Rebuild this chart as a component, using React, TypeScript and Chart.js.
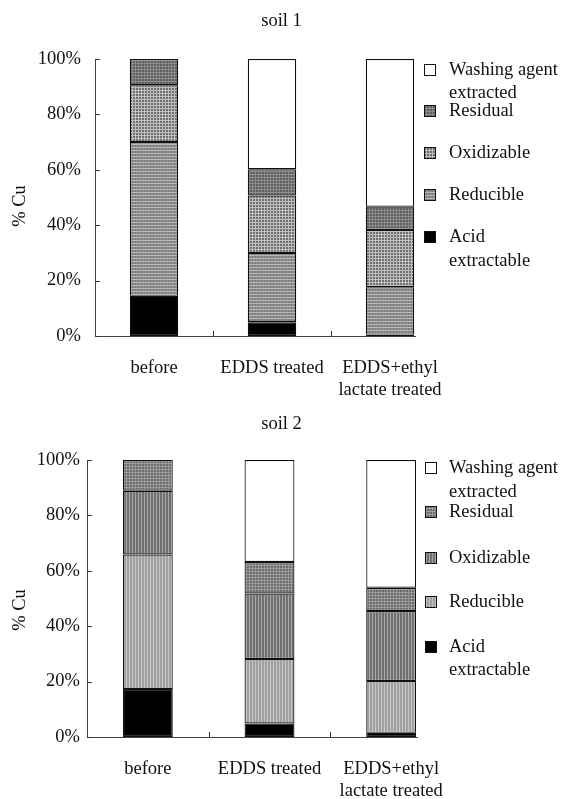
import React, { useEffect, useRef } from 'react';
import { Chart, registerables } from 'chart.js';
Chart.register(...registerables);

// ---------- data ----------
const categories = [['before'], ['EDDS treated'], ['EDDS+ethyl', 'lactate treated']];
const seriesNames = ['Acid extractable', 'Reducible', 'Oxidizable', 'Residual', 'Washing agent extracted'];
const legendLines = [['Washing agent', 'extracted'], ['Residual'], ['Oxidizable'], ['Reducible'], ['Acid', 'extractable']];
const yTickValues = [0, 20, 40, 60, 80, 100];

const soil1Acid = [14.5, 5, 0.5];
const soil1Reducible = [55.5, 25, 17.1];
const soil1Oxidizable = [20.5, 20.7, 20.7];
const soil1Residual = [9.5, 9.5, 8.4];
const soil1Washing = [null, 39.8, 53.3];

const soil2Acid = [17.3, 4.9, 1.5];
const soil2Reducible = [48.6, 23.3, 18.7];
const soil2Oxidizable = [23, 23.6, 25.3];
const soil2Residual = [11.1, 11.4, 8.4];
const soil2Washing = [null, 36.8, 46.1];

// ---------- styling ----------
type PSpec = { base: string; h?: string; v?: string; step: number } | string;

const soil1Fills: PSpec[] = [
  '#000000',
  { base: '#8c8c8c', h: '#b8b8b8', v: '#7c7c7c', step: 3 },
  { base: '#6e6e6e', h: '#c0c0c0', v: '#c0c0c0', step: 3 },
  { base: '#5e5e5e', h: '#8e8e8e', v: '#8a8a8a', step: 3 },
  '#ffffff',
];
const soil2Fills: PSpec[] = [
  '#000000',
  { base: '#a0a0a0', v: '#c6c6c6', step: 3 },
  { base: '#707070', v: '#a8a8a8', step: 3 },
  { base: '#6c6c6c', h: '#9c9c9c', v: '#989898', step: 3 },
  '#ffffff',
];

const FONT = "'Liberation Serif', 'Times New Roman', serif";
const FS = 18.5;
const TXT = '#111';
const W = 563;

function makeFill(spec: PSpec): any {
  if (typeof spec === 'string') return spec;
  const c = document.createElement('canvas');
  c.width = spec.step;
  c.height = spec.step;
  const g = c.getContext('2d')!;
  g.fillStyle = spec.base;
  g.fillRect(0, 0, spec.step, spec.step);
  if (spec.v) {
    g.fillStyle = spec.v;
    g.fillRect(0, 0, 1, spec.step);
  }
  if (spec.h) {
    g.fillStyle = spec.h;
    g.fillRect(0, 0, spec.step, 1);
  }
  return g.createPattern(c, 'repeat');
}

type Cfg = {
  title: string;
  titleY: number;
  height: number;
  left: number;
  right: number;
  top: number;
  bottom: number;
  yPad: number;
  yTitleY: number;
  legendLeft: number;
  legendSquareX: number;
  legendTextX: number;
  legendRows: number[][];
  series: (number | null)[][];
  fills: PSpec[];
};

const cfg1: Cfg = {
  title: 'soil 1',
  titleY: 21,
  height: 400,
  left: 95,
  right: 449,
  top: 59,
  bottom: 336,
  yPad: 14,
  yTitleY: 206,
  legendLeft: 416,
  legendSquareX: 424,
  legendTextX: 449,
  legendRows: [[70, 93], [111], [153], [195], [237, 261]],
  series: [soil1Acid, soil1Reducible, soil1Oxidizable, soil1Residual, soil1Washing],
  fills: soil1Fills,
};

const cfg2: Cfg = {
  title: 'soil 2',
  titleY: 24,
  height: 399,
  left: 87,
  right: 452,
  top: 60,
  bottom: 337,
  yPad: 7,
  yTitleY: 210,
  legendLeft: 418,
  legendSquareX: 425,
  legendTextX: 449,
  legendRows: [[68, 92], [112], [158], [202], [247, 270]],
  series: [soil2Acid, soil2Reducible, soil2Oxidizable, soil2Residual, soil2Washing],
  fills: soil2Fills,
};

function SoilChart({ cfg, top }: { cfg: Cfg; top: number }) {
  const ref = useRef<HTMLCanvasElement | null>(null);
  useEffect(() => {
    if (!ref.current) return;
    const fills = cfg.fills.map(makeFill);
    const decor = {
      id: 'decor',
      afterDraw(chart: any) {
        const ctx = chart.ctx;
        const ca = chart.chartArea;
        const xs = chart.scales.x;
        const ys = chart.scales.y;
        ctx.save();
        // tick marks (inside)
        ctx.strokeStyle = '#333';
        ctx.lineWidth = 1;
        ctx.beginPath();
        yTickValues.forEach((v) => {
          const y = Math.round(ys.getPixelForValue(v)) + 0.5;
          ctx.moveTo(ca.left, y);
          ctx.lineTo(ca.left + 5, y);
        });
        for (let i = 0; i < categories.length - 1; i++) {
          const x = Math.round((xs.getPixelForValue(i) + xs.getPixelForValue(i + 1)) / 2) + 0.5;
          ctx.moveTo(x, ca.bottom);
          ctx.lineTo(x, ca.bottom - 5);
        }
        ctx.stroke();
        // legend box (white, overlapping plot)
        ctx.fillStyle = '#ffffff';
        ctx.fillRect(cfg.legendLeft, ca.top - 12, W - cfg.legendLeft, ca.bottom - ca.top + 14);
        ctx.font = `${FS}px ${FONT}`;
        ctx.textBaseline = 'middle';
        ctx.textAlign = 'left';
        const order = [4, 3, 2, 1, 0];
        order.forEach((di, k) => {
          const rows = cfg.legendRows[k];
          const sx = cfg.legendSquareX;
          const sy = Math.round(rows[0] - 6);
          ctx.fillStyle = fills[di];
          ctx.fillRect(sx, sy, 12, 12);
          ctx.strokeStyle = '#111';
          ctx.lineWidth = 1;
          ctx.strokeRect(sx + 0.5, sy + 0.5, 11, 11);
          ctx.fillStyle = TXT;
          legendLines[k].forEach((t, j) => ctx.fillText(t, cfg.legendTextX, rows[j]));
        });
        // title
        ctx.textAlign = 'center';
        ctx.fillStyle = TXT;
        ctx.fillText(cfg.title, W / 2, cfg.titleY);
        // y title
        ctx.translate(20, cfg.yTitleY);
        ctx.rotate(-Math.PI / 2);
        ctx.fillText('% Cu', 0, 0);
        ctx.restore();
      },
    };
    const chart = new Chart(ref.current, {
      type: 'bar',
      data: {
        labels: categories as any,
        datasets: cfg.series.map((d, i) => ({
          label: seriesNames[i],
          data: d as any,
          backgroundColor: fills[i],
          borderColor: '#111',
          borderWidth: 1.2,
          borderSkipped: false,
          barPercentage: 0.41,
          categoryPercentage: 1,
        })),
      },
      options: {
        animation: false,
        responsive: false,
        devicePixelRatio: 1,
        layout: { padding: { top: cfg.top, left: 0, right: W - cfg.right, bottom: 0 } },
        plugins: { legend: { display: false }, title: { display: false }, tooltip: { enabled: false } },
        scales: {
          x: {
            stacked: true,
            grid: { display: false, drawTicks: false },
            border: { display: true, color: '#444', width: 1 },
            ticks: { font: { family: FONT, size: FS }, color: TXT, padding: 21, maxRotation: 0, autoSkip: false },
            afterFit: (s: any) => {
              s.height = cfg.height - cfg.bottom;
            },
          },
          y: {
            stacked: true,
            min: 0,
            max: 100,
            grid: { display: false, drawTicks: false },
            border: { display: true, color: '#444', width: 1 },
            ticks: {
              stepSize: 20,
              font: { family: FONT, size: FS },
              color: TXT,
              padding: cfg.yPad,
              callback: (v: any) => v + '%',
            },
            afterFit: (s: any) => {
              s.width = cfg.left;
            },
          },
        },
      },
      plugins: [decor],
    });
    return () => chart.destroy();
  }, [cfg]);
  return (
    <canvas
      ref={ref}
      width={W}
      height={cfg.height}
      style={{ position: 'absolute', left: 0, top, width: W, height: cfg.height, display: 'block' }}
    />
  );
}

export default function App() {
  return (
    <div style={{ position: 'absolute', left: 0, top: 0, width: W, height: 799, background: '#fff', overflow: 'hidden' }}>
      <SoilChart cfg={cfg1} top={0} />
      <SoilChart cfg={cfg2} top={400} />
    </div>
  );
}
